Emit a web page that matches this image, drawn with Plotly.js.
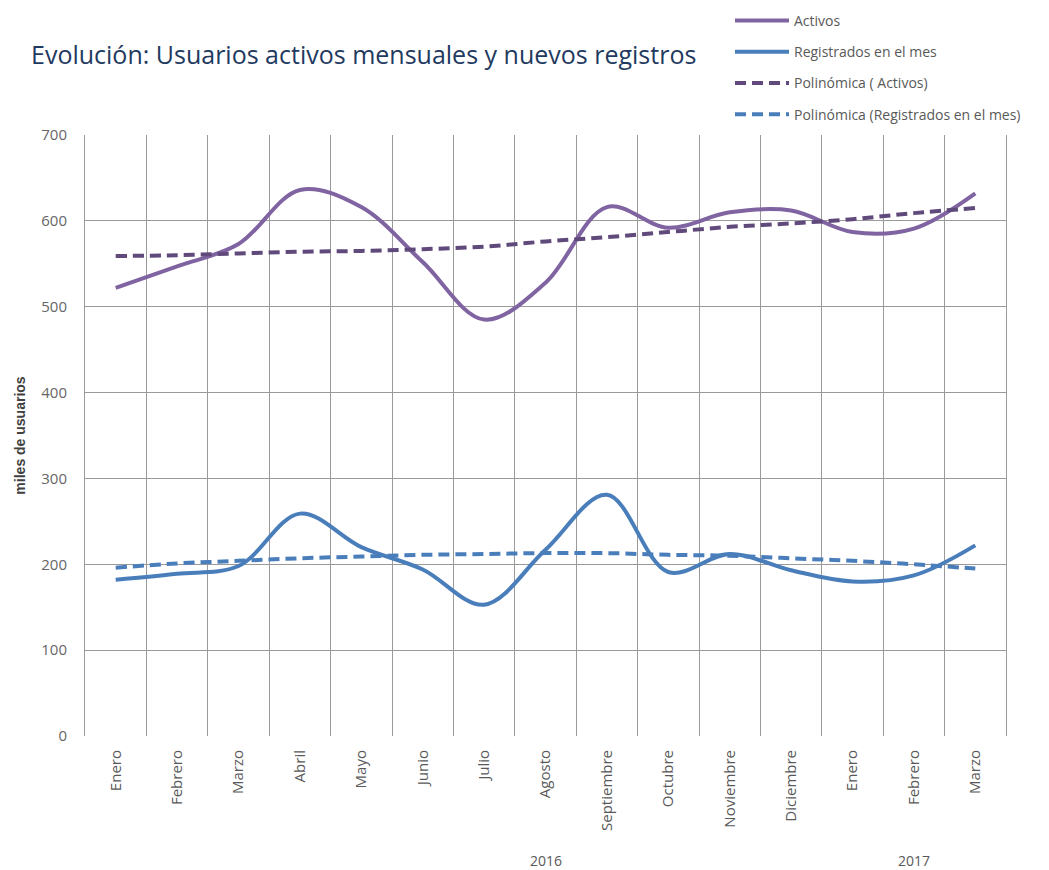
<!DOCTYPE html>
<html>
<head>
<meta charset="utf-8">
<script src="https://cdn.plot.ly/plotly-3.0.1.min.js"></script>
<style>html,body{margin:0;padding:0;background:#fff;}#chart{width:1049px;height:870px;}</style>
</head>
<body>
<div id="chart"></div>
<script>
const months = ["Enero","Febrero","Marzo","Abril","Mayo","Junio","Julio","Agosto","Septiembre","Octubre","Noviembre","Diciembre","Enero","Febrero","Marzo"];
const years = ["2016","2017"];
const yearPos = [7, 13];
const activos = [522, 547, 573, 636, 616, 552, 485, 528, 616, 592, 610, 612, 587, 591, 632];
const registrados = [182, 189, 198, 259, 220, 194, 153, 217, 281, 191, 212, 193, 180, 187, 222];
const trendActivos = [559, 560, 562, 564, 565, 567, 570, 576, 581, 587, 593, 597, 602, 609, 615];
const trendRegistrados = [196, 201, 204, 207, 209, 211, 212, 213, 213, 211, 210, 207, 204, 200, 195];
const seriesNames = ["Activos","Registrados en el mes","Polinómica ( Activos)","Polinómica (Registrados en el mes)"];

const idx = months.map((m,i)=>i);

const traces = [
  {x: idx, y: activos, name: seriesNames[0], mode:'lines', line:{color:'#8064A2', width:4, shape:'spline', smoothing:1}, legendgroup:'a'},
  {x: idx, y: registrados, name: seriesNames[1], mode:'lines', line:{color:'#4A7EBB', width:4, shape:'spline', smoothing:1}, legendgroup:'b'},
  {x: idx, y: trendActivos, name: seriesNames[2], mode:'lines', line:{color:'#604A7B', width:4, dash:'11px,6px', shape:'spline'}, legendgroup:'c'},
  {x: idx, y: trendRegistrados, name: seriesNames[3], mode:'lines', line:{color:'#4A7EBB', width:4, dash:'11px,6px', shape:'spline'}, legendgroup:'d'}
];

const annotations = years.map((t,i)=>({
  text: t, x: yearPos[i], xref:'x', y: -0.207, yref:'paper', showarrow:false,
  font:{family:'Open Sans, sans-serif', size:14, color:'#595959'}, xanchor:'center', yanchor:'middle'
}));

const layout = {
  width:1049, height:870,
  margin:{l:85, r:43, t:135, b:134, autoexpand:false},
  paper_bgcolor:'#fff', plot_bgcolor:'#fff',
  title:{text:'Evolución: Usuarios activos mensuales y nuevos registros', x:31/1049, xanchor:'left', y:1-55/870, yanchor:'middle',
    font:{family:'Open Sans, sans-serif', size:25, color:'#1F3A5F'}},
  showlegend:true,
  legend:{x:(730-85)/921, xanchor:'left', y:(736-5)/601, yanchor:'top', orientation:'v', traceorder:'grouped', tracegroupgap:10,
    itemwidth:54, font:{family:'Open Sans, sans-serif', size:14, color:'#595959'}, bgcolor:'rgba(0,0,0,0)'},
  xaxis:{range:[-0.5,14.5], tickmode:'array', tickvals:idx, ticktext:months, tickangle:-90, showgrid:false, zeroline:false,
    ticks:'', showline:true, linecolor:'#ffffff', linewidth:2, ticklabelstandoff:6,
    tickfont:{family:'Open Sans, sans-serif', size:15, color:'#595959'},
    minor:{tick0:0.5, dtick:1, showgrid:true, gridcolor:'#9a9a9a', gridwidth:1, ticks:''}, fixedrange:true},
  yaxis:{range:[0,700], dtick:100, tick0:0, showgrid:true, gridcolor:'#9a9a9a', gridwidth:1, zeroline:false,
    showline:true, linecolor:'#9a9a9a', linewidth:1, mirror:true, ticks:'', ticklabelstandoff:14,
    tickfont:{family:'Open Sans, sans-serif', size:15, color:'#666666'},
    title:{text:'miles de usuarios', standoff:12, font:{family:'Liberation Sans, Arial, sans-serif', size:14, color:'#404040', weight:'bold'}},
    automargin:false, fixedrange:true},
  annotations: annotations
};

Plotly.newPlot('chart', traces, layout, {displayModeBar:false, staticPlot:true});
</script>
</body>
</html>
